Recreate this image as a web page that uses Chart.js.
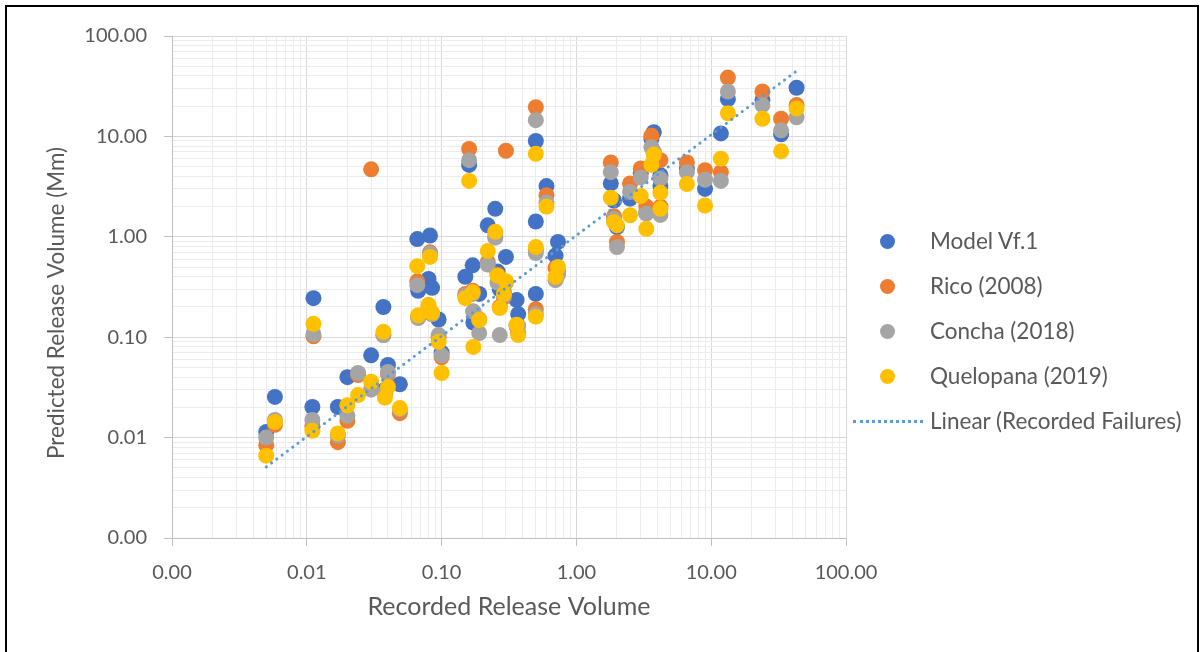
<!DOCTYPE html>
<html>
<head>
<meta charset="utf-8">
<script src="https://cdn.jsdelivr.net/npm/chart.js@4.4.0/dist/chart.umd.min.js"></script>
<style>
  html, body { margin: 0; padding: 0; background: #fff; }
  #wrap { position: relative; width: 1203px; height: 652px; overflow: hidden; background: #fff; }
  #chart { position: absolute; left: 0; top: 0; }
  #frame { position: absolute; left: 5px; top: 5px; width: 1190px; height: 720px; border: 2px solid #000; pointer-events: none; }
  .lg { position: absolute; font-family: Lato, sans-serif; font-size: 22.5px; color: #595959; line-height: 26px; white-space: nowrap; }
  .dot { position: absolute; width: 15px; height: 15px; border-radius: 50%; }
  .dash { position: absolute; height: 0; border-top: 3px dotted #5B9BD5; }
</style>
</head>
<body>
<div id="wrap">
  <canvas id="chart" width="1203" height="652"></canvas>
  <div id="legend"></div>
  <div id="frame"></div>
</div>
<script>
// Recorded release volume (x) and predicted volumes per model (y)
const recorded  = [0.005, 0.0058, 0.011, 0.0112, 0.017, 0.020, 0.024, 0.030, 0.037, 0.038,
                   0.040, 0.049, 0.066, 0.067, 0.080, 0.082, 0.085, 0.095, 0.100, 0.15,
                   0.16, 0.17, 0.172, 0.19, 0.22, 0.25, 0.26, 0.27, 0.30, 0.29,
                   0.36, 0.37, 0.50, 0.50, 0.50, 0.60, 0.70, 0.73, 1.8, 1.9,
                   2.0, 2.5, 3.0, 3.3, 3.6, 3.75, 4.2, 4.2, 6.6, 9.0,
                   11.8, 13.3, 24, 33, 43];
const modelVf1  = [0.0114, 0.0254, 0.0202, 0.245, 0.0202, 0.040, 0.043, 0.066, 0.20, 0.030,
                   0.053, 0.034, 0.95, 0.29, 0.38, 1.03, 0.31, 0.15, 0.07, 0.40,
                   5.2, 0.52, 0.14, 0.27, 1.3, 1.9, 0.45, 0.30, 0.63, 0.28,
                   0.235, 0.17, 9.0, 1.42, 0.27, 3.2, 0.65, 0.89, 3.4, 2.3,
                   1.25, 2.4, 4.3, 1.75, 9.5, 11, 4.1, 3.2, 4.8, 3.0,
                   10.7, 23.5, 23, 10.5, 30.5];
const rico2008  = [0.0084, 0.0134, 0.0130, 0.102, 0.0090, 0.0147, 0.042, 4.7, 0.105, 0.027,
                   0.043, 0.0175, 0.36, 0.16, 0.20, 0.70, 0.17, 0.10, 0.063, 0.27,
                   7.5, 0.29, 0.18, 0.15, 0.56, 1.0, 0.42, 0.20, 7.2, 0.25,
                   0.13, 0.11, 19.5, 0.75, 0.19, 2.6, 0.49, 0.45, 5.5, 1.6,
                   0.89, 3.4, 4.8, 2.0, 10.2, 7.0, 5.8, 2.0, 5.5, 4.6,
                   4.4, 38.5, 28, 15, 20.5];
const concha2018 = [0.0100, 0.0150, 0.0150, 0.107, 0.0105, 0.0165, 0.044, 0.030, 0.105, 0.028,
                   0.045, 0.019, 0.33, 0.155, 0.19, 0.68, 0.17, 0.105, 0.066, 0.26,
                   5.8, 0.27, 0.18, 0.11, 0.53, 0.98, 0.35, 0.105, 0.35, 0.26,
                   0.13, 0.13, 14.5, 0.69, 0.17, 2.2, 0.37, 0.42, 4.4, 1.5,
                   0.79, 2.8, 3.9, 1.7, 7.8, 6.8, 3.8, 1.65, 4.4, 3.7,
                   3.6, 28, 20.5, 11.5, 15.5];
const quelopana2019 = [0.0066, 0.0143, 0.0117, 0.136, 0.0110, 0.021, 0.0265, 0.036, 0.113, 0.025,
                   0.032, 0.0197, 0.51, 0.165, 0.21, 0.63, 0.175, 0.09, 0.044, 0.245,
                   3.6, 0.28, 0.08, 0.148, 0.72, 1.12, 0.41, 0.195, 0.36, 0.27,
                   0.133, 0.105, 6.7, 0.79, 0.16, 2.0, 0.40, 0.50, 2.45, 1.4,
                   1.3, 1.64, 2.55, 1.2, 5.2, 6.6, 2.75, 1.9, 3.35, 2.05,
                   6.0, 17, 15, 7.1, 19];
// trend line "Linear (Recorded Failures)" end points
const trendX = [0.005, 43];
const trendY = [0.0051, 44.8];
// decade tick labels
const decades = [0.001, 0.01, 0.1, 1, 10, 100];

const seriesNames = ['Model Vf.1', 'Rico (2008)', 'Concha (2018)', 'Quelopana (2019)'];
const seriesColors = ['#4472C4', '#ED7D31', '#A5A5A5', '#FFC000'];
const seriesValues = [modelVf1, rico2008, concha2018, quelopana2019];
const yTitle = 'Predicted Release Volume (Mm)';

// all log gridline positions (1..9 per decade)
const gridVals = [];
for (let d = 0; d < decades.length - 1; d++) {
    for (let m = 1; m < 10; m++) gridVals.push(+(decades[d] * m).toPrecision(3));
}
gridVals.push(decades[decades.length - 1]);

function isMajor(v) {
    return decades.some(d => Math.abs(v / d - 1) < 1e-6);
}

const datasets = seriesNames.map((name, i) => ({
    label: name,
    data: recorded.map((x, j) => ({x: x, y: seriesValues[i][j]})),
    backgroundColor: seriesColors[i],
    borderColor: seriesColors[i],
    borderWidth: 0,
    pointRadius: 8,
    pointHoverRadius: 8,
    order: 4 - i
}));
datasets.push({
    label: 'Linear (Recorded Failures)',
    data: trendX.map((x, j) => ({x: x, y: trendY[j]})),
    showLine: true,
    borderColor: '#5B9BD5',
    borderWidth: 3,
    borderDash: [0.1, 6.5],
    borderCapStyle: 'round',
    pointRadius: 0,
    fill: false,
    order: 0
});

const tickFont = {family: 'Lato', size: 20};
const axisGrid = {
    color: (c) => isMajor(c.tick ? c.tick.value : 0) ? '#d9d9d9' : '#ececec',
    tickColor: (c) => isMajor(c.tick ? c.tick.value : 0) ? '#bfbfbf' : 'rgba(0,0,0,0)',
    tickLength: 8,
    lineWidth: 1
};

function setTicks(axis) {
    axis.ticks = gridVals.map(v => ({value: v}));
}

// y axis title, drawn a little below the plot centre like the original
const yTitlePlugin = {
    id: 'yTitle',
    afterDraw(chart) {
        const ctx = chart.ctx;
        ctx.save();
        ctx.translate(57, 303);
        ctx.rotate(-Math.PI / 2);
        ctx.font = '22.5px Lato';
        ctx.fillStyle = '#595959';
        ctx.textAlign = 'center';
        ctx.textBaseline = 'middle';
        ctx.fillText(yTitle, 0, 0);
        ctx.restore();
    }
};

const chart = new Chart(document.getElementById('chart').getContext('2d'), {
    type: 'scatter',
    data: {datasets: datasets},
    plugins: [yTitlePlugin],
    options: {
        responsive: false,
        animation: false,
        events: [],
        layout: {padding: {left: 0, top: 36, right: 357, bottom: 0}},
        plugins: {legend: {display: false}, tooltip: {enabled: false}},
        scales: {
            x: {
                type: 'logarithmic',
                min: 0.001,
                max: 100,
                afterBuildTicks: setTicks,
                afterFit: (s) => { s.height = 114; },
                grid: axisGrid,
                border: {color: '#bfbfbf'},
                ticks: {
                    autoSkip: false,
                    maxRotation: 0,
                    padding: 15,
                    color: '#595959',
                    font: tickFont,
                    callback: (v) => isMajor(v) ? Number(v).toFixed(2) : ''
                },
                title: {
                    display: true,
                    text: 'Recorded Release Volume',
                    color: '#595959',
                    font: {family: 'Lato', size: 25},
                    padding: {top: 0, bottom: 30}
                }
            },
            y: {
                type: 'logarithmic',
                min: 0.001,
                max: 100,
                afterBuildTicks: setTicks,
                afterFit: (s) => { s.width = 172; },
                grid: axisGrid,
                border: {color: '#bfbfbf'},
                ticks: {
                    autoSkip: false,
                    padding: 17,
                    color: '#595959',
                    font: tickFont,
                    callback: (v) => isMajor(v) ? Number(v).toFixed(2) : ''
                }
            }
        }
    }
});

// legend on the right, built from the dataset labels
const legend = document.getElementById('legend');
const rowY = [241, 286, 331, 376, 421];
datasets.forEach((ds, i) => {
    if (i < seriesNames.length) {
        const dot = document.createElement('div');
        dot.className = 'dot';
        dot.style.left = (887 - 7.5) + 'px';
        dot.style.top = (rowY[i] - 7.5) + 'px';
        dot.style.background = ds.backgroundColor;
        legend.appendChild(dot);
    } else {
        const dash = document.createElement('div');
        dash.className = 'dash';
        dash.style.left = '853px';
        dash.style.width = '70px';
        dash.style.top = (rowY[i] - 1.5) + 'px';
        legend.appendChild(dash);
    }
    const txt = document.createElement('div');
    txt.className = 'lg';
    txt.style.left = '930px';
    txt.style.top = (rowY[i] - 13) + 'px';
    txt.textContent = ds.label;
    legend.appendChild(txt);
});
</script>
</body>
</html>
